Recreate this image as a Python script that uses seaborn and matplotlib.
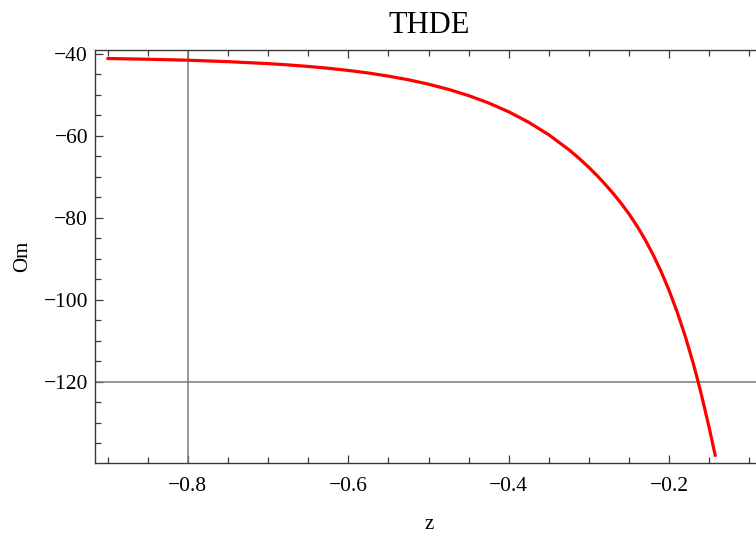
import matplotlib
matplotlib.use("Agg")
import matplotlib.pyplot as plt
from matplotlib.ticker import MultipleLocator
import seaborn as sns
import pandas as pd

# THDE model: Om as a function of redshift z
z_values = [-0.90, -0.85, -0.80, -0.75, -0.70, -0.675, -0.65, -0.625, -0.60,
            -0.575, -0.55, -0.525, -0.50, -0.475, -0.45, -0.425, -0.40,
            -0.375, -0.35, -0.325, -0.3125, -0.30, -0.29, -0.28, -0.27,
            -0.26, -0.25, -0.24, -0.23, -0.22, -0.21, -0.20, -0.19, -0.18,
            -0.17, -0.165, -0.16, -0.155, -0.15, -0.146, -0.1425]
om_values = [-41.20, -41.37, -41.61, -41.96, -42.44, -42.75, -43.13, -43.57,
             -44.10, -44.73, -45.49, -46.38, -47.45, -48.72, -50.24, -52.04,
             -54.19, -56.75, -59.80, -63.43, -65.50, -67.76, -69.71, -71.81,
             -74.06, -76.47, -79.11, -82.06, -85.35, -89.03, -93.16, -97.79,
             -103.01, -108.88, -115.52, -119.15, -123.02, -127.13, -131.30,
             -134.90, -138.00]

x_ticks = [-0.8, -0.6, -0.4, -0.2]
y_ticks = [-40, -60, -80, -100, -120]
axes_origin = (-0.8, -120)

df = pd.DataFrame({"z": z_values, "Om": om_values})

sns.set_style("white")
plt.rcParams["font.family"] = ["Liberation Serif", "DejaVu Serif"]
plt.rcParams["axes.unicode_minus"] = True
plt.rcParams["text.color"] = "black"
plt.rcParams["axes.labelcolor"] = "black"

fig = plt.figure(figsize=(7.56, 5.37), dpi=100)
# axes extend a little past the right edge of the canvas
ax = fig.add_axes([95 / 756, 0.1384, 668 / 756, 0.7694])

frame_color = "#3a3a3a"
for side in ["left", "bottom", "top", "right"]:
    ax.spines[side].set_visible(True)
    ax.spines[side].set_color(frame_color)
    ax.spines[side].set_linewidth(1.0)

# axis lines through the origin point
ax.axvline(axes_origin[0], color="#7a7a7a", lw=1.1, zorder=1)
ax.axhline(axes_origin[1], color="#7a7a7a", lw=1.1, zorder=1)

sns.lineplot(data=df, x="z", y="Om", ax=ax, color="#ff0000", lw=2.3,
             zorder=3, sort=False)

ax.set_xlim(-0.9158, -0.083)
ax.set_ylim(-139.75, -39.0)

ax.set_xticks(x_ticks)
ax.set_yticks(y_ticks)
ax.xaxis.set_minor_locator(MultipleLocator(0.05))
ax.yaxis.set_minor_locator(MultipleLocator(5))
ax.set_xticklabels([f"{v:g}".replace("-", "\u2212") for v in x_ticks])
ax.set_yticklabels([f"{v:g}".replace("-", "\u2212") for v in y_ticks])

ax.tick_params(which="both", direction="in", top=True, right=False,
               bottom=True, left=True, color=frame_color, width=0.9,
               labelsize=15.5, labelcolor="black")
ax.tick_params(which="major", length=6)
ax.tick_params(which="minor", length=4)
ax.tick_params(axis="x", which="major", pad=10)
ax.tick_params(axis="y", which="major", pad=5)

ax.set_xlabel("z", fontsize=15, labelpad=14, color="black")
ax.set_ylabel("Om", fontsize=15, labelpad=8, color="black")
ax.set_title("THDE", fontsize=22, pad=12, color="black")

fig.savefig("out.png", dpi=100)
